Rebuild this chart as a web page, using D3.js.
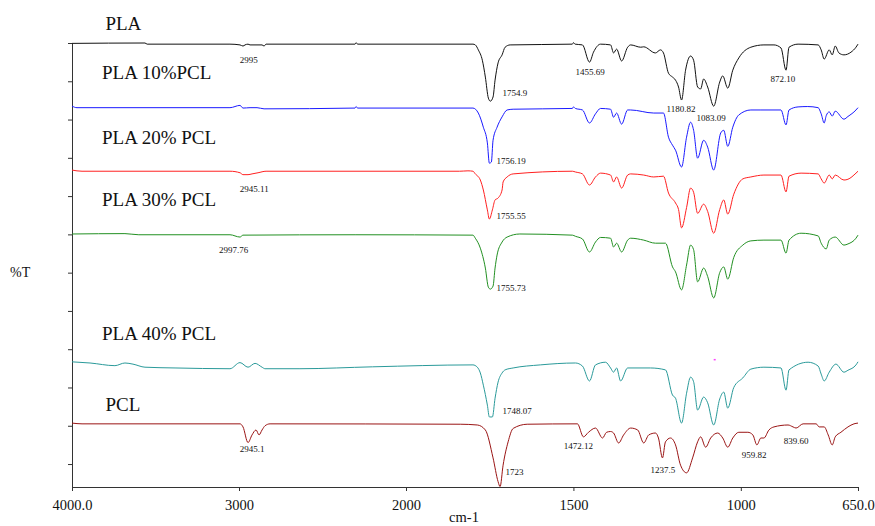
<!DOCTYPE html>
<html lang="en">
  <head>
    <meta charset="UTF-8" />
    <title>FTIR spectra PLA / PCL</title>
    <script src="https://d3js.org/d3.v7.min.js"></script>
    <style>
      body {
        margin: 0;
        background: #fff;
      }
      svg text {
        font-family: "Times New Roman", "Liberation Serif", "DejaVu Serif", serif;
        fill: #111;
      }
    </style>
  </head>
  <body>
    <div id="chart"></div>
    <script>
      // spectra, [wavenumber cm-1, %T as plotted (stacked)]
      const pla = [
        [4000, 115.9], [3563, 116.0], [3550, 115.7], [3054, 115.7], [2994, 115.5], [2976, 115.2], [2964, 115.5],
        [2946, 115.7], [2934, 115.5], [2862, 115.5], [2850, 115.2], [2838, 115.7], [2305, 115.7], [2299, 116.1],
        [2290, 115.7], [1800, 115.7], [1793, 115.5], [1784, 114.2], [1772, 111.5], [1763, 107.1], [1754, 101.6],
        [1748, 100.8], [1740, 101.9], [1734, 106.3], [1725, 110.8], [1713, 112.9], [1704, 114.9], [1689, 115.5],
        [1503, 115.7], [1500, 116.1], [1495, 115.7], [1473, 115.5], [1452, 111.0], [1440, 113.6], [1419, 115.7],
        [1389, 115.5], [1380, 113.4], [1371, 114.4], [1356, 111.3], [1338, 114.9], [1329, 115.5], [1299, 114.9],
        [1290, 115.0], [1255, 113.4], [1240, 114.2], [1231, 113.4], [1216, 108.1], [1204, 107.1], [1195, 106.3],
        [1186, 104.5], [1177, 101.1], [1165, 108.9], [1150, 112.6], [1141, 111.5], [1129, 104.5], [1120, 104.0],
        [1111, 106.6], [1099, 104.5], [1081, 99.5], [1063, 105.8], [1054, 107.4], [1039, 104.2], [1024, 108.9],
        [1006, 112.1], [970, 114.9], [931, 115.5], [901, 115.5], [880, 114.7], [865, 108.9], [856, 114.9],
        [829, 115.7], [769, 115.5], [760, 114.2], [751, 111.8], [736, 114.2], [727, 112.9], [718, 115.2],
        [707, 113.4], [692, 112.9], [671, 113.6], [656, 114.9], [650, 115.7]
      ]

      const pla10 = [
        [4000, 99.5], [3970, 99.1], [3054, 99.1], [2994, 99.7], [2976, 99.0], [2934, 99.1], [2892, 99.1],
        [2850, 98.8], [2305, 99.0], [2299, 99.4], [2290, 99.0], [1800, 99.0], [1784, 97.7], [1769, 94.0],
        [1757, 89.9], [1751, 84.6], [1745, 84.9], [1740, 90.6], [1728, 94.0], [1713, 96.7], [1698, 98.5],
        [1680, 98.7], [1503, 98.9], [1500, 99.3], [1494, 98.9], [1473, 98.5], [1452, 95.1], [1434, 97.5],
        [1419, 98.9], [1389, 98.7], [1380, 96.6], [1371, 97.7], [1356, 94.8], [1338, 98.5], [1329, 98.5],
        [1260, 97.7], [1231, 97.7], [1216, 91.4], [1204, 89.3], [1195, 88.0], [1177, 83.6], [1162, 91.4],
        [1150, 95.3], [1141, 93.2], [1129, 85.9], [1111, 90.6], [1099, 88.8], [1081, 82.8], [1060, 92.5],
        [1051, 93.2], [1039, 89.0], [1024, 94.0], [1006, 97.2], [970, 98.5], [940, 98.5], [880, 98.5],
        [865, 94.6], [856, 98.5], [829, 99.3], [800, 99.4], [769, 99.1], [760, 97.5], [751, 95.1], [745, 97.0],
        [736, 98.0], [727, 96.9], [718, 98.2], [692, 96.1], [680, 96.8], [656, 98.5], [650, 99.1]
      ]

      const pla20 = [
        [4000, 82.8], [3940, 82.5], [3054, 82.5], [2994, 82.1], [2976, 81.6], [2946, 81.6], [2922, 81.8],
        [2886, 82.1], [2838, 82.5], [1840, 82.5], [1815, 82.6], [1800, 82.5], [1793, 81.8], [1778, 80.2],
        [1769, 77.6], [1757, 72.4], [1751, 70.0], [1742, 72.4], [1734, 75.0], [1725, 75.5], [1713, 77.6],
        [1710, 79.7], [1698, 81.0], [1680, 81.8], [1503, 82.5], [1494, 82.3], [1473, 81.8], [1452, 78.9],
        [1434, 81.0], [1419, 82.0], [1389, 81.5], [1380, 79.7], [1371, 81.0], [1356, 78.1], [1338, 81.5],
        [1329, 81.8], [1290, 81.5], [1260, 81.0], [1231, 81.2], [1216, 76.8], [1195, 74.2], [1186, 72.5],
        [1177, 67.7], [1162, 73.0], [1150, 78.1], [1141, 77.0], [1129, 71.5], [1111, 73.9], [1099, 72.0],
        [1081, 66.3], [1063, 72.5], [1051, 75.0], [1039, 71.3], [1021, 76.5], [994, 80.5], [970, 81.0],
        [931, 81.5], [880, 81.5], [865, 77.1], [856, 81.2], [820, 82.0], [769, 81.8], [760, 80.5], [751, 79.4],
        [736, 81.5], [727, 80.5], [718, 81.5], [692, 80.2], [680, 80.4], [656, 82.0], [650, 82.5]
      ]

      const pla30 = [
        [4000, 66.1], [3683, 66.2], [3600, 65.9], [3054, 65.9], [2994, 65.3], [2976, 65.8], [2300, 65.9],
        [1800, 65.8], [1793, 65.0], [1778, 62.4], [1763, 57.2], [1754, 52.2], [1748, 51.7], [1740, 52.5],
        [1734, 57.2], [1728, 60.6], [1713, 64.0], [1698, 65.3], [1660, 66.1], [1503, 65.8], [1494, 65.5],
        [1473, 64.8], [1452, 61.4], [1434, 64.0], [1419, 65.2], [1389, 65.0], [1380, 62.7], [1371, 63.7],
        [1356, 61.4], [1338, 64.5], [1329, 65.0], [1290, 64.5], [1255, 63.7], [1225, 63.7], [1204, 57.5],
        [1195, 56.2], [1177, 51.5], [1162, 58.0], [1150, 63.2], [1141, 62.0], [1129, 53.6], [1111, 57.2],
        [1099, 55.0], [1081, 49.4], [1063, 56.0], [1051, 57.5], [1039, 54.3], [1021, 60.0], [994, 63.2],
        [970, 64.3], [931, 64.5], [880, 64.5], [865, 61.1], [856, 64.5], [820, 66.3], [769, 65.6], [760, 63.7],
        [745, 62.2], [736, 64.5], [718, 65.3], [692, 63.2], [680, 63.5], [656, 65.0], [650, 65.8]
      ]

      const pla40 = [
        [4000, 32.7], [3892, 32.4], [3743, 31.7], [3683, 32.4], [3635, 32.1], [3563, 31.3], [3383, 31.1],
        [3054, 30.9], [2994, 32.5], [2946, 31.3], [2904, 32.3], [2862, 31.3], [2844, 30.9], [2635, 30.9],
        [2200, 31.4], [1800, 31.9], [1787, 31.3], [1778, 29.8], [1769, 26.6], [1757, 21.4], [1751, 18.3],
        [1742, 18.3], [1734, 23.2], [1725, 27.4], [1713, 29.8], [1704, 30.6], [1680, 31.1], [1599, 31.9],
        [1494, 32.4], [1473, 31.6], [1452, 27.7], [1434, 31.9], [1404, 32.6], [1389, 31.1], [1380, 30.0],
        [1371, 31.1], [1359, 27.7], [1338, 31.1], [1270, 31.1], [1225, 30.6], [1204, 24.0], [1195, 23.2],
        [1177, 16.7], [1162, 24.5], [1150, 28.7], [1141, 27.5], [1129, 20.1], [1111, 23.5], [1099, 22.0],
        [1081, 16.2], [1063, 23.0], [1051, 24.8], [1039, 20.6], [1021, 26.0], [994, 28.5], [970, 30.8],
        [931, 31.3], [880, 31.1], [865, 25.3], [856, 30.6], [799, 32.6], [769, 31.6], [760, 29.5], [751, 27.7],
        [736, 30.0], [716, 32.1], [692, 30.0], [680, 30.5], [656, 31.9], [650, 32.7]
      ]

      const pcl = [
        [4000, 16.7], [3940, 16.5], [2994, 16.5], [2976, 15.7], [2946, 11.6], [2922, 13.6], [2898, 14.9],
        [2880, 13.6], [2862, 14.9], [2844, 16.0], [2814, 16.5], [1838, 16.4], [1787, 16.2], [1763, 14.9],
        [1740, 7.6], [1725, 1.4], [1719, 0.1], [1710, 5.7], [1695, 11.8], [1680, 15.3], [1638, 16.4],
        [1488, 16.5], [1470, 13.1], [1455, 14.3], [1434, 15.4], [1413, 12.8], [1401, 14.3], [1389, 14.5],
        [1380, 14.1], [1365, 11.5], [1350, 13.6], [1329, 15.4], [1308, 14.9], [1290, 11.5], [1275, 13.6],
        [1255, 14.1], [1246, 12.8], [1234, 7.6], [1225, 11.8], [1210, 12.8], [1195, 11.0], [1180, 5.7],
        [1162, 3.7], [1144, 7.6], [1129, 11.8], [1120, 13.1], [1105, 10.4], [1090, 12.8], [1069, 14.1],
        [1054, 12.8], [1039, 10.4], [1024, 12.8], [1006, 14.3], [979, 14.3], [964, 13.6], [952, 11.0],
        [940, 12.8], [931, 12.8], [916, 14.9], [901, 15.7], [859, 16.2], [844, 15.7], [835, 15.4], [814, 16.5],
        [775, 16.5], [766, 15.7], [751, 15.7], [739, 13.6], [727, 11.0], [718, 13.1], [701, 14.3], [680, 15.7],
        [662, 16.5], [650, 16.7]
      ]

      const seriesNames = ["PLA", "PLA 10%PCL", "PLA 20% PCL", "PLA 30% PCL", "PLA 40% PCL", "PCL"]
      const seriesData = [pla, pla10, pla20, pla30, pla40, pcl]
      const seriesColors = ["#111111", "#1a1aff", "#ff2020", "#229022", "#2a9a9a", "#9a1414"]
      // [wavenumber, %T] where each series name is written
      const nameAnchors = [[3800, 119.5], [3820, 106.7], [3820, 89.5], [3820, 73.4], [3820, 38.3], [3800, 19.9]]

      // peak labels: text, wavenumber at left edge, %T at baseline
      const peakLabels = [
        ["2995", 2995, 110.9],
        ["2945.11", 2995, 77.1],
        ["2997.76", 3120, 61.2],
        ["2945.1", 2995, 9.1],
        ["1754.9", 1712, 102.1],
        ["1455.69", 1494, 107.6],
        ["1180.82", 1222, 97.9],
        ["1083.09", 1132, 95.6],
        ["872.10", 911, 105.8],
        ["1756.19", 1730, 84.4],
        ["1755.55", 1730, 70.0],
        ["1755.73", 1730, 51.3],
        ["1748.07", 1712, 19.1],
        ["1472.12", 1529, 9.8],
        ["1723", 1703, 3.1],
        ["1237.5", 1270, 3.7],
        ["959.82", 997, 7.7],
        ["839.60", 872, 11.2]
      ]

      const xTicks = [4000, 3000, 2000, 1500, 1000, 650]
      const yTicks = d3.range(116, 0, -10)
      const stray = [[1078, 33.2]]

      const width = 875,
        height = 526

      const svg = d3.select("#chart").append("svg").attr("width", width).attr("height", height)

      // FTIR-style axis: scale changes at 2000 cm-1
      const x = d3.scaleLinear().domain([4000, 2000, 650]).range([72, 406, 858])
      const y = d3.scaleLinear().domain([0, 116]).range([487, 43])

      const xAxis = d3
        .axisBottom(x)
        .tickValues(xTicks)
        .tickSize(4)
        .tickSizeOuter(0)
        .tickPadding(9)
        .tickFormat(d => (d === 4000 || d === 650 ? d.toFixed(1) : d))

      const gx = svg.append("g").attr("transform", `translate(0,${y(0)})`).call(xAxis)
      gx.selectAll("text").style("font-size", "14.5px").attr("fill", "#111")

      const yAxis = d3.axisLeft(y).tickValues(yTicks).tickSize(4).tickSizeOuter(0).tickFormat("")
      svg.append("g").attr("transform", `translate(${x(4000)},0)`).call(yAxis)

      svg.selectAll(".domain, .tick line").attr("stroke", "#333")

      svg
        .append("text")
        .attr("x", 464)
        .attr("y", 522)
        .attr("text-anchor", "middle")
        .style("font-size", "14.5px")
        .text("cm-1")

      svg
        .append("text")
        .attr("x", 10)
        .attr("y", 277)
        .style("font-size", "14px")
        .text("%T")

      const line = d3
        .line()
        .x(d => x(d[0]))
        .y(d => y(d[1]))
        .curve(d3.curveMonotoneX)

      svg
        .selectAll(".spectrum")
        .data(seriesData)
        .enter()
        .append("path")
        .attr("class", "spectrum")
        .attr("d", line)
        .attr("fill", "none")
        .attr("stroke", (d, i) => seriesColors[i])
        .attr("stroke-width", 1)
        .attr("stroke-linejoin", "round")

      svg
        .selectAll(".name")
        .data(seriesNames)
        .enter()
        .append("text")
        .attr("class", "name")
        .attr("x", (d, i) => x(nameAnchors[i][0]))
        .attr("y", (d, i) => y(nameAnchors[i][1]))
        .style("font-size", "19px")
        .text(d => d)

      svg
        .selectAll(".peak")
        .data(peakLabels)
        .enter()
        .append("text")
        .attr("class", "peak")
        .attr("x", d => x(d[1]))
        .attr("y", d => y(d[2]))
        .style("font-size", "9px")
        .text(d => d[0])

      svg
        .selectAll(".stray")
        .data(stray)
        .enter()
        .append("rect")
        .attr("x", d => x(d[0]) - 1)
        .attr("y", d => y(d[1]) - 1)
        .attr("width", 2)
        .attr("height", 1.5)
        .attr("fill", "#ff40ff")
    </script>
  </body>
</html>
